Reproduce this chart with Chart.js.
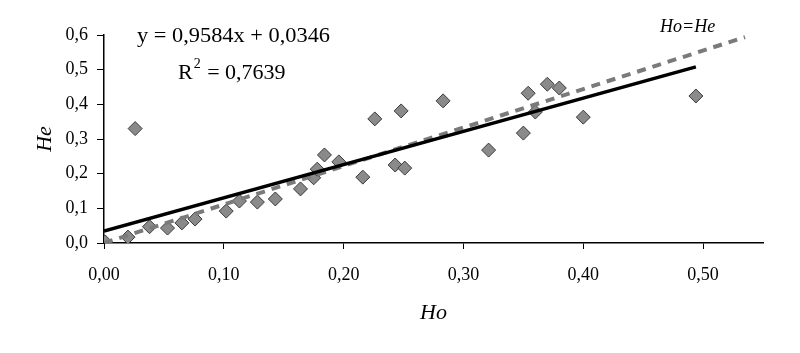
<!DOCTYPE html>
<html>
<head>
<meta charset="utf-8">
<script src="https://cdn.jsdelivr.net/npm/chart.js@4"></script>
<style>
html,body{margin:0;padding:0;background:#fff;}
#wrap{width:800px;height:353px;}
</style>
</head>
<body>
<div id="wrap"><canvas id="c" width="800" height="353"></canvas></div>
<script>
// Observed heterozygosity (Ho) and expected heterozygosity (He)
const ho = [0.001, 0.020, 0.026, 0.038, 0.053, 0.065, 0.076, 0.102, 0.113, 0.128, 0.143, 0.164, 0.175, 0.178, 0.184, 0.196, 0.216, 0.226, 0.243, 0.248, 0.251, 0.283, 0.321, 0.350, 0.354, 0.360, 0.370, 0.380, 0.400, 0.494];
const he = [0.003, 0.017, 0.330, 0.047, 0.043, 0.058, 0.069, 0.092, 0.121, 0.118, 0.127, 0.156, 0.188, 0.213, 0.254, 0.234, 0.190, 0.358, 0.225, 0.381, 0.216, 0.410, 0.268, 0.317, 0.432, 0.378, 0.458, 0.447, 0.363, 0.424];

// Linear trend line endpoints (y = 0,9584x + 0,0346)
const trendX = [0, 0.494];
const trendY = [0.0346, 0.508];

// Ho=He reference line endpoints as drawn
const refX = [0, 0.535];
const refY = [0, 0.594];

const xTickValues = [0, 0.1, 0.2, 0.3, 0.4, 0.5];
const xTickLabels = ['0,00', '0,10', '0,20', '0,30', '0,40', '0,50'];
const yTickValues = [0, 0.1, 0.2, 0.3, 0.4, 0.5, 0.6];
const yTickLabels = ['0,0', '0,1', '0,2', '0,3', '0,4', '0,5', '0,6'];

const eqText = 'y = 0,9584x + 0,0346';
const r2Label = 'R';
const r2Sup = '2';
const r2Value = ' = 0,7639';
const refLabel = 'Ho=He';

const SERIF = '"Liberation Serif", "Times New Roman", serif';

const annot = {
  id: 'annot',
  afterDatasetsDraw(chart) {
    const ctx = chart.ctx;
    ctx.save();
    ctx.fillStyle = '#000';
    ctx.textBaseline = 'middle';
    ctx.textAlign = 'left';
    ctx.font = '22px ' + SERIF;
    const w = ctx.measureText(eqText).width;
    ctx.save();
    ctx.translate(137, 36);
    ctx.scale(193 / w, 1);
    ctx.fillText(eqText, 0, 0);
    ctx.restore();
    // R^2
    let x = 178;
    ctx.fillText(r2Label, x, 73);
    x += ctx.measureText(r2Label).width;
    ctx.font = '14px ' + SERIF;
    ctx.fillText(r2Sup, x + 1, 64);
    x += ctx.measureText(r2Sup).width + 2;
    ctx.font = '22px ' + SERIF;
    ctx.fillText(r2Value, x, 73);
    ctx.font = 'italic 18px ' + SERIF;
    ctx.fillText(refLabel, 660, 27);
    ctx.restore();
  }
};

const data = {
  datasets: [
    {
      type: 'line',
      label: 'trend',
      data: trendX.map((v, i) => ({x: v, y: trendY[i]})),
      borderColor: '#000',
      borderWidth: 3.5,
      pointRadius: 0,
      fill: false,
      order: 0
    },
    {
      type: 'line',
      label: 'Ho=He',
      data: refX.map((v, i) => ({x: v, y: refY[i]})),
      borderColor: '#7a7a7a',
      borderWidth: 4,
      borderDash: [9, 7],
      pointRadius: 0,
      fill: false,
      order: 1
    },
    {
      type: 'scatter',
      label: 'He',
      data: ho.map((v, i) => ({x: v, y: he[i]})),
      pointStyle: 'rectRot',
      pointRadius: 7,
      backgroundColor: '#8a8a8a',
      borderColor: '#3a3a3a',
      borderWidth: 1,
      order: 2
    }
  ]
};

new Chart(document.getElementById('c'), {
  type: 'scatter',
  data,
  plugins: [annot],
  options: {
    responsive: false,
    animation: false,
    devicePixelRatio: 1,
    layout: {padding: {top: 35, right: 37, left: 0, bottom: 0}},
    plugins: {legend: {display: false}, tooltip: {enabled: false}},
    scales: {
      x: {
        type: 'linear',
        min: 0,
        max: 0.55,
        afterFit: s => { s.height = 110; },
        afterBuildTicks: s => { s.ticks = xTickValues.map(v => ({value: v})); },
        ticks: {
          callback: (v, i) => xTickLabels[i],
          color: '#000',
          font: {family: SERIF, size: 18},
          padding: 15,
          maxRotation: 0
        },
        grid: {drawOnChartArea: false, drawTicks: true, tickLength: 6, color: '#000'},
        border: {display: true, color: '#000', width: 1.5},
        title: {
          display: true,
          text: 'Ho',
          color: '#000',
          font: {family: SERIF, size: 22, style: 'italic'},
          padding: {top: 0, bottom: 27}
        }
      },
      y: {
        type: 'linear',
        min: 0,
        max: 0.6,
        afterFit: s => { s.width = 104; },
        afterBuildTicks: s => { s.ticks = yTickValues.map(v => ({value: v})); },
        ticks: {
          callback: (v, i) => yTickLabels[i],
          color: '#000',
          font: {family: SERIF, size: 18},
          padding: 9
        },
        grid: {drawOnChartArea: false, drawTicks: true, tickLength: 7, color: '#000'},
        border: {display: true, color: '#000', width: 1.5},
        title: {
          display: true,
          text: 'He',
          color: '#000',
          font: {family: SERIF, size: 22, style: 'italic'},
          padding: {top: 32, bottom: 0}
        }
      }
    }
  }
});
</script>
</body>
</html>
